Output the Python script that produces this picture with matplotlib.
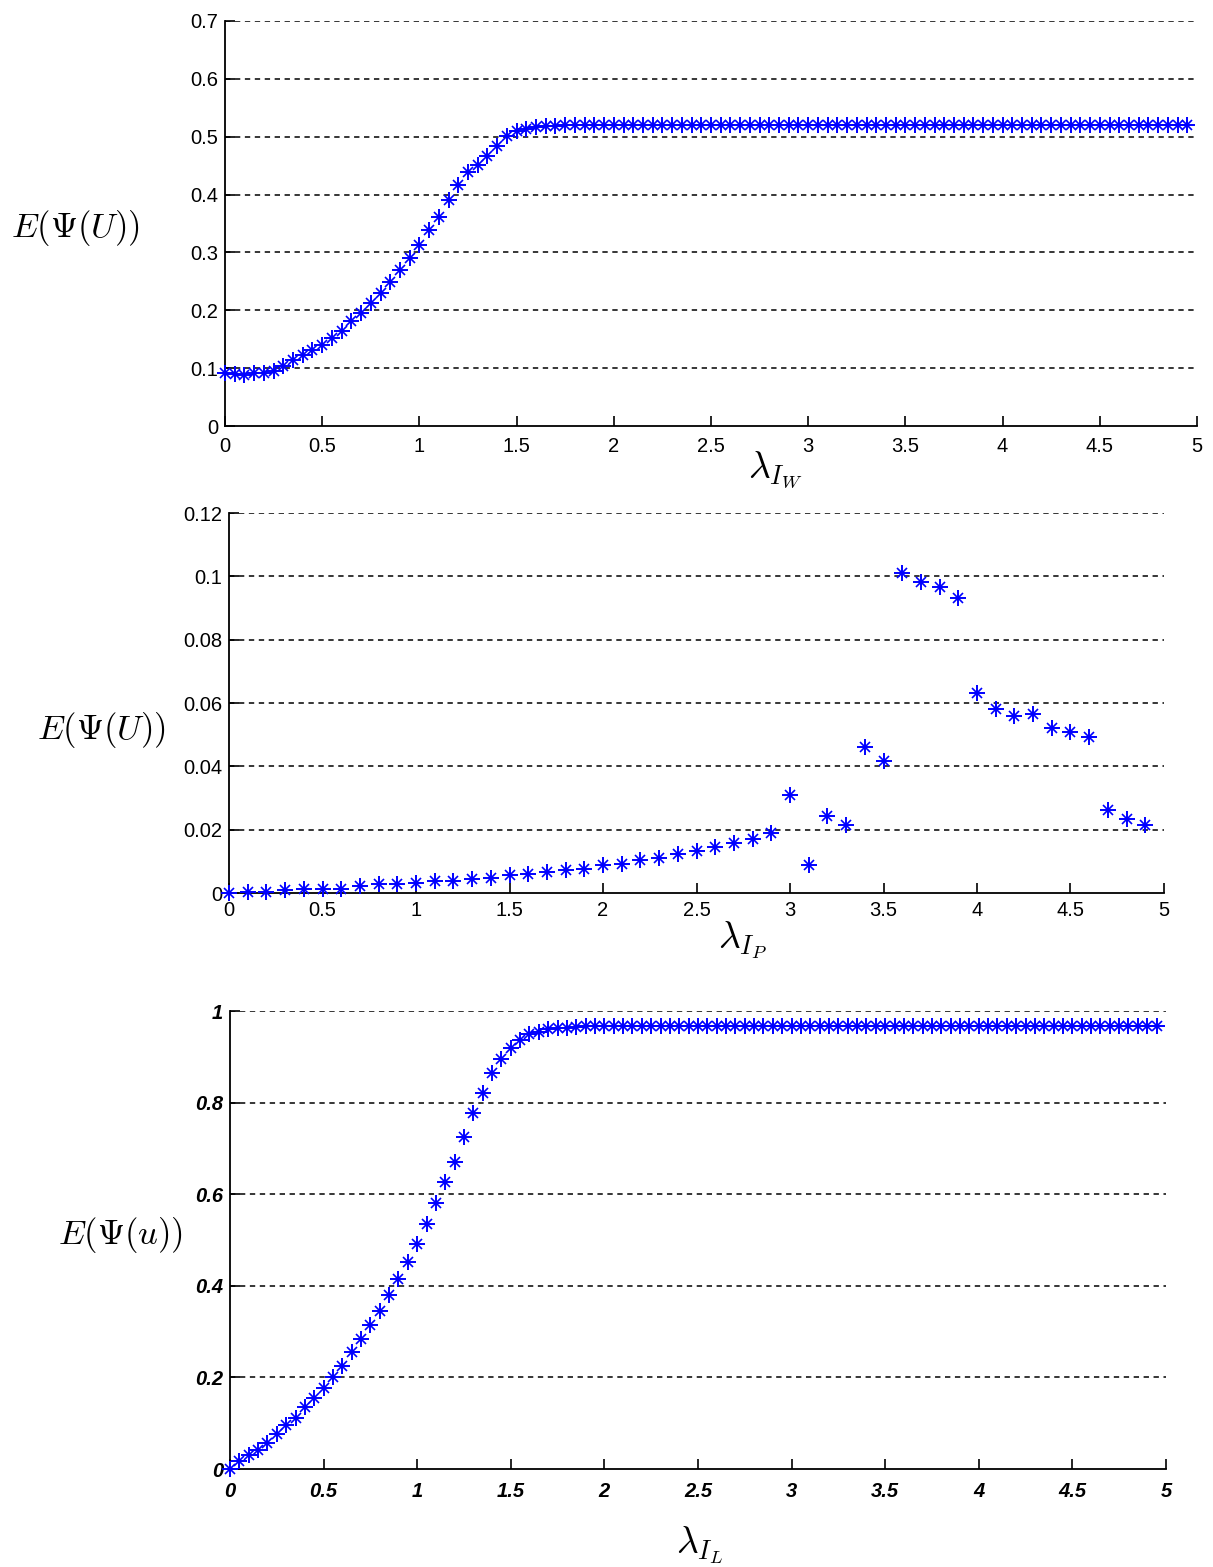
import numpy as np
import matplotlib
matplotlib.use("Agg")
import matplotlib.pyplot as plt

plt.rcParams['mathtext.fontset'] = 'cm'
plt.rcParams['font.family'] = ['Liberation Sans', 'DejaVu Sans']

# panel 1: lambda_IW, step 0.05
x_w = np.round(np.arange(0, 5.0, 0.05), 2)
y_w_rise = [0.091, 0.090, 0.088, 0.092, 0.091, 0.096, 0.104, 0.114, 0.123, 0.131,
            0.140, 0.153, 0.165, 0.181, 0.195, 0.212, 0.230, 0.249, 0.269, 0.291,
            0.313, 0.338, 0.362, 0.390, 0.417, 0.439, 0.452, 0.466, 0.484, 0.501,
            0.510, 0.513, 0.516, 0.518, 0.519, 0.520]
y_w = y_w_rise + [0.520] * (len(x_w) - len(y_w_rise))

# panel 2: lambda_IP, step 0.1
x_p = np.round(np.arange(0, 5.0, 0.1), 1)
y_p = [0.0000, 0.0003, 0.0003, 0.0008, 0.0014, 0.0014, 0.0014, 0.0021, 0.0027, 0.0027,
       0.0033, 0.0038, 0.0038, 0.0043, 0.0048, 0.0056, 0.0061, 0.0066, 0.0072, 0.0075,
       0.0087, 0.0093, 0.0103, 0.0111, 0.0122, 0.0133, 0.0145, 0.0159, 0.0172, 0.0189,
       0.0311, 0.0087, 0.0243, 0.0216, 0.0461, 0.0416, 0.1011, 0.0982, 0.0966, 0.0933,
       0.0633, 0.0582, 0.0559, 0.0566, 0.0522, 0.0508, 0.0493, 0.0261, 0.0233, 0.0214]

# panel 3: lambda_IL, step 0.05
x_l = np.round(np.arange(0, 5.0, 0.05), 2)
y_l_rise = [0.000, 0.017, 0.031, 0.042, 0.057, 0.077, 0.097, 0.111, 0.135, 0.155,
            0.177, 0.202, 0.226, 0.255, 0.284, 0.315, 0.345, 0.380, 0.415, 0.453,
            0.492, 0.535, 0.580, 0.626, 0.671, 0.724, 0.777, 0.822, 0.865, 0.895,
            0.920, 0.937, 0.949, 0.955, 0.960, 0.962, 0.964, 0.966]
y_l = y_l_rise + [0.967] * (len(x_l) - len(y_l_rise))

fig = plt.figure(figsize=(12.13, 15.67), dpi=100)

panels = [
    dict(rect=[0.1855, 0.7281, 0.8013, 0.2585], x=x_w, y=y_w,
         yticks=np.arange(0, 0.71, 0.1), ylim=(0, 0.7), ylabel=r'$E(\Psi(U))$',
         xlabel=r'$\lambda_{I_W}$', ylab_pos=(-0.154, 0.489), xlab_pos=(0.566, -0.109),
         bold=False, xpad=8),
    dict(rect=[0.1888, 0.4301, 0.7708, 0.2425], x=x_p, y=y_p,
         yticks=np.arange(0, 0.121, 0.02), ylim=(0, 0.12), ylabel=r'$E(\Psi(U))$',
         xlabel=r'$\lambda_{I_P}$', ylab_pos=(-0.136, 0.429), xlab_pos=(0.549, -0.124),
         bold=False, xpad=6),
    dict(rect=[0.1896, 0.0625, 0.7716, 0.2923], x=x_l, y=y_l,
         yticks=np.arange(0, 1.01, 0.2), ylim=(0, 1.0), ylabel=r'$E(\Psi(u))$',
         xlabel=r'$\lambda_{I_L}$', ylab_pos=(-0.1175, 0.511), xlab_pos=(0.502, -0.166),
         bold=True, xpad=9),
]

for p in panels:
    ax = fig.add_axes(p['rect'])
    ax.plot(p['x'], p['y'], linestyle='none', marker='+', markersize=11,
            markeredgewidth=1.4, color='#0000ff', clip_on=False, zorder=3)
    ax.plot(p['x'], p['y'], linestyle='none', marker='x', markersize=6.5,
            markeredgewidth=1.2, color='#0000ff', clip_on=False, zorder=3)
    ax.set_xlim(0, 5)
    ax.set_ylim(*p['ylim'])
    xt = np.arange(0, 5.01, 0.5)
    ax.set_xticks(xt)
    ax.set_yticks(p['yticks'])
    ax.set_xticklabels(['{:g}'.format(v) for v in xt])
    ax.set_yticklabels(['{:g}'.format(round(v, 3)) for v in p['yticks']])
    for yv in p['yticks'][1:]:
        ax.axhline(yv, color='black', lw=1.1, linestyle=(0, (3.5, 3)), zorder=1)
    for s in ['top', 'right']:
        ax.spines[s].set_visible(False)
    for s in ['left', 'bottom']:
        ax.spines[s].set_linewidth(1.3)
    ax.tick_params(direction='in', length=7, width=1.2, labelsize=14.5)
    ax.tick_params(axis='x', pad=p['xpad'])
    ax.tick_params(axis='y', pad=5)
    if p['bold']:
        for lab in ax.get_xticklabels() + ax.get_yticklabels():
            lab.set_fontweight('bold')
            lab.set_fontstyle('italic')
    ax.text(p['ylab_pos'][0], p['ylab_pos'][1], p['ylabel'], transform=ax.transAxes,
            ha='center', va='center', fontsize=25)
    ax.text(p['xlab_pos'][0], p['xlab_pos'][1], p['xlabel'], transform=ax.transAxes,
            ha='center', va='center', fontsize=27)

fig.savefig('out.png', dpi=100)
